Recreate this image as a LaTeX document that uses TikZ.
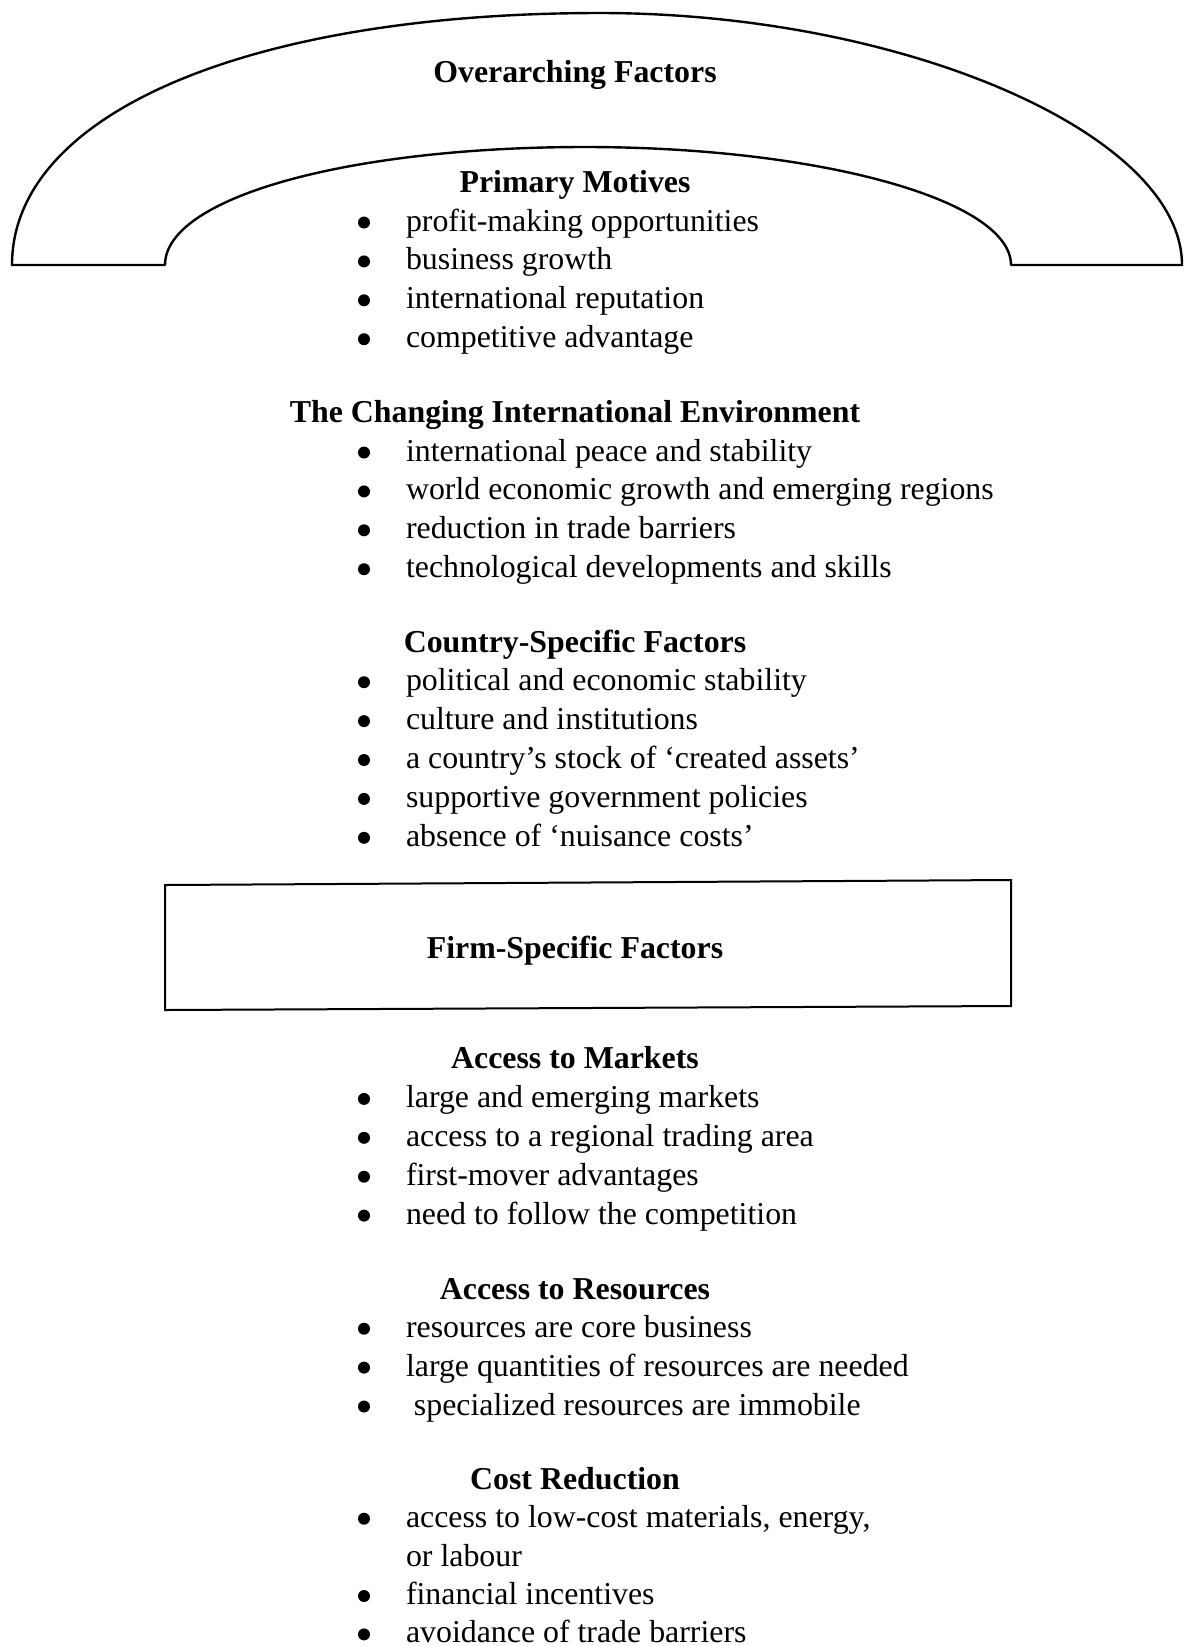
\documentclass[tikz,border=0pt]{standalone}
\usepackage{fontspec}
\setmainfont{Liberation Serif}
\begin{document}
\begin{tikzpicture}[x=0.5pt,y=-0.5pt,
  every node/.style={inner sep=0pt,outer sep=0pt,font=\fontsize{15.93}{19.4}\selectfont},
  head/.style={anchor=base,font=\fontsize{15.93}{19.4}\selectfont\bfseries},
  itemtext/.style={anchor=base west},
  dotmark/.style={fill=black},
  archline/.style={line width=1.2pt,line join=round},
  boxline/.style={line width=1pt}]
\useasboundingbox (0,0) rectangle (1184,1646);
% arch
\draw[archline] (12,265) .. controls (12,114) and (247,13) .. (600,13)
  .. controls (903,13) and (1182,134) .. (1182,265)
  -- (1011,265) .. controls (1011,200) and (819,147) .. (585,147)
  .. controls (346,147) and (165,198) .. (165,265) -- cycle;
\node[head] (over) at (575,82) {Overarching Factors};
% box
\draw[boxline] (165,885) -- (1011,880) -- (1011,1006) -- (165,1010) -- cycle;
\node[head] (firm) at (575,958) {Firm-Specific Factors};
% headings
\node[head] (pm) at (575,192) {Primary Motives};
\node[head] (cie) at (575,422.5) {The Changing International Environment};
\node[head] (csf) at (575,652.4) {Country-Specific Factors};
\node[head] (atm) at (575,1068) {Access to Markets};
\node[head] (atr) at (575,1299) {Access to Resources};
\node[head] (cr) at (575,1489) {Cost Reduction};
% bullet items
\foreach \n/\y/\t in {
  pa/231/{profit-making opportunities},
  pb/269.9/{business growth},
  pc/308.8/{international reputation},
  pd/347.7/{competitive advantage},
  ea/461/{international peace and stability},
  eb/499.9/{world economic growth and emerging regions},
  ec/538.8/{reduction in trade barriers},
  ed/577.7/{technological developments and skills},
  ca/690.7/{political and economic stability},
  cb/729.6/{culture and institutions},
  cc/768.5/{a country’s stock of ‘created assets’},
  cd/807.4/{supportive government policies},
  ce/846.3/{absence of ‘nuisance costs’},
  ma/1107.4/{large and emerging markets},
  mb/1146.3/{access to a regional trading area},
  mc/1185.2/{first-mover advantages},
  md/1224.1/{need to follow the competition},
  ra/1337.2/{resources are core business},
  rb/1376.1/{large quantities of resources are needed},
  rc/1415/{\ specialized resources are immobile},
  xa/1527.2/{access to low-cost materials, energy,},
  xc/1604.5/{financial incentives},
  xd/1642.9/{avoidance of trade barriers}}
{
  \node[itemtext] (\n) at (406,\y) {\t};
  \fill[dotmark] (364,\y-8.5) circle[radius=6];
}
\node[itemtext] (xb) at (406,1566) {or labour};
\end{tikzpicture}
\end{document}
